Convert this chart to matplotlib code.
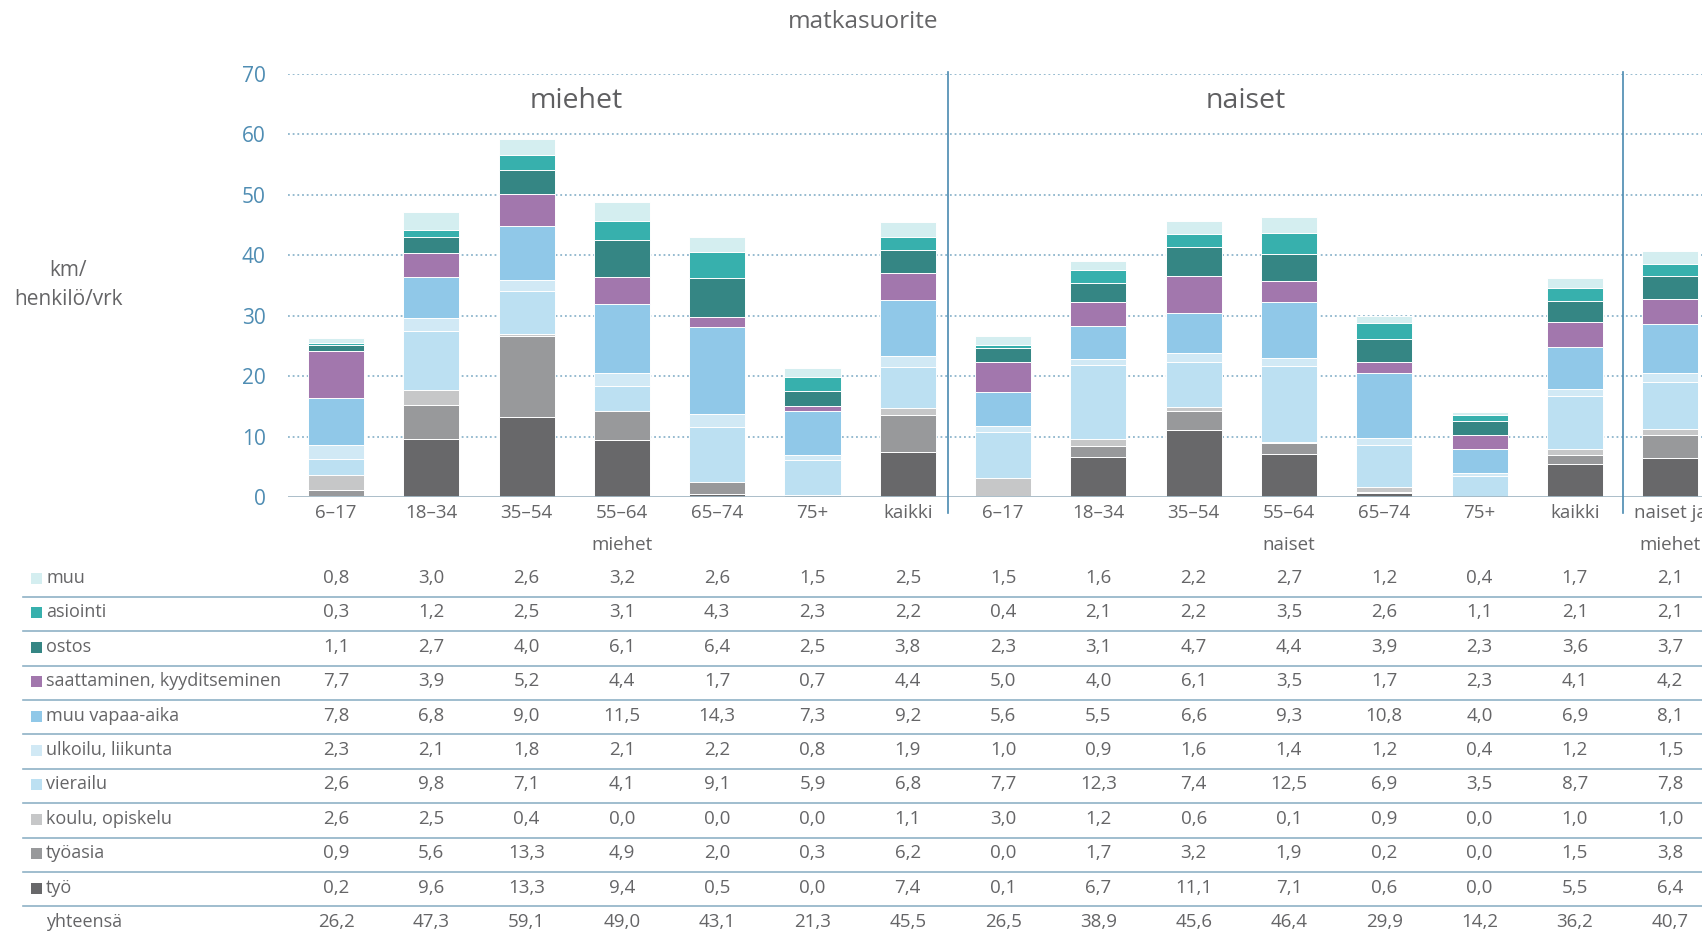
import matplotlib
matplotlib.use('Agg')
import matplotlib.pyplot as plt
from matplotlib.transforms import blended_transform_factory
from matplotlib.lines import Line2D
from matplotlib.patches import Rectangle
import numpy as np

plt.rcParams['font.family'] = ['Open Sans', 'DejaVu Sans']

# ---------------- data ----------------
columns = ['6–17', '18–34', '35–54', '55–64', '65–74', '75+', 'kaikki',
           '6–17', '18–34', '35–54', '55–64', '65–74', '75+', 'kaikki',
           'naiset ja']
group_labels = ['miehet', 'naiset', 'miehet']
group_label_cols = [3, 10, 14]
panel_titles = ['miehet', 'naiset']

tyo          = [0.2, 9.6, 13.3, 9.4, 0.5, 0.0, 7.4, 0.1, 6.7, 11.1, 7.1, 0.6, 0.0, 5.5, 6.4]
tyoasia      = [0.9, 5.6, 13.3, 4.9, 2.0, 0.3, 6.2, 0.0, 1.7, 3.2, 1.9, 0.2, 0.0, 1.5, 3.8]
koulu        = [2.6, 2.5, 0.4, 0.0, 0.0, 0.0, 1.1, 3.0, 1.2, 0.6, 0.1, 0.9, 0.0, 1.0, 1.0]
vierailu     = [2.6, 9.8, 7.1, 4.1, 9.1, 5.9, 6.8, 7.7, 12.3, 7.4, 12.5, 6.9, 3.5, 8.7, 7.8]
ulkoilu      = [2.3, 2.1, 1.8, 2.1, 2.2, 0.8, 1.9, 1.0, 0.9, 1.6, 1.4, 1.2, 0.4, 1.2, 1.5]
muu_vapaa    = [7.8, 6.8, 9.0, 11.5, 14.3, 7.3, 9.2, 5.6, 5.5, 6.6, 9.3, 10.8, 4.0, 6.9, 8.1]
saattaminen  = [7.7, 3.9, 5.2, 4.4, 1.7, 0.7, 4.4, 5.0, 4.0, 6.1, 3.5, 1.7, 2.3, 4.1, 4.2]
ostos        = [1.1, 2.7, 4.0, 6.1, 6.4, 2.5, 3.8, 2.3, 3.1, 4.7, 4.4, 3.9, 2.3, 3.6, 3.7]
asiointi     = [0.3, 1.2, 2.5, 3.1, 4.3, 2.3, 2.2, 0.4, 2.1, 2.2, 3.5, 2.6, 1.1, 2.1, 2.1]
muu          = [0.8, 3.0, 2.6, 3.2, 2.6, 1.5, 2.5, 1.5, 1.6, 2.2, 2.7, 1.2, 0.4, 1.7, 2.1]
yhteensa     = [26.2, 47.3, 59.1, 49.0, 43.1, 21.3, 45.5, 26.5, 38.9, 45.6, 46.4, 29.9, 14.2, 36.2, 40.7]

# bottom -> top stacking order
series = [
    ('työ', tyo, '#68686a'),
    ('työasia', tyoasia, '#98999b'),
    ('koulu, opiskelu', koulu, '#c6c7c8'),
    ('vierailu', vierailu, '#bce0f2'),
    ('ulkoilu, liikunta', ulkoilu, '#d1e9f5'),
    ('muu vapaa-aika', muu_vapaa, '#90c8e8'),
    ('saattaminen, kyyditseminen', saattaminen, '#a277ad'),
    ('ostos', ostos, '#358684'),
    ('asiointi', asiointi, '#37b0ad'),
    ('muu', muu, '#d4eef0'),
]

TXT = '#656567'

# ---------------- layout ----------------
W, H = 1702, 934
fig = plt.figure(figsize=(W / 100, H / 100), dpi=100)

def fy(px):
    return 1 - px / H

def fx(px):
    return px / W

ax_left, ax_right, ax_top, ax_bot = 288, 1702, 74, 497
ax = fig.add_axes([fx(ax_left), fy(ax_bot), fx(ax_right - ax_left), (ax_bot - ax_top) / H])

x = np.arange(len(columns))
bottom = np.zeros(len(columns))
for name, vals, col in series:
    v = np.array(vals)
    ax.bar(x, v, width=0.588, bottom=bottom, color=col, edgecolor='white',
           linewidth=0.7, zorder=3)
    bottom += v

ax.set_xlim(-0.5037, 14.334)
ax.set_ylim(0, 70)
for s in ax.spines.values():
    s.set_visible(False)
ax.set_yticks(range(0, 71, 10))
ax.tick_params(axis='y', length=0, pad=16, labelcolor='#4f8db3', labelsize=15)
ax.set_xticks(x)
ax.set_xticklabels(columns)
ax.tick_params(axis='x', length=0, pad=5, labelcolor=TXT, labelsize=13.5)
for yv in range(10, 71, 10):
    ax.axhline(yv, color='#8eb5cc', linestyle=(0, (1, 1.6)), linewidth=1.3, zorder=1)
ax.axhline(0, color='#a3b8c4', linewidth=2, zorder=4)

bt = blended_transform_factory(ax.transData, fig.transFigure)

# separators
for sx in [6.42, 13.51]:
    fig.add_artist(Line2D([sx, sx], [fy(72), fy(513)], transform=bt,
                          color='#4a8ab0', linewidth=1.2))

# panel titles
ax.text(2.52, fy(101), panel_titles[0], transform=bt, ha='center', va='center',
        fontsize=20.5, color='#5f5f61')
ax.text(9.55, fy(101), panel_titles[1], transform=bt, ha='center', va='center',
        fontsize=20.5, color='#5f5f61')

# group labels under ticks
for lab, c in zip(group_labels, group_label_cols):
    ax.text(c, fy(545), lab, transform=bt, ha='center', va='center',
            fontsize=13.5, color=TXT)

# title and y label
fig.text(fx(863), fy(22), 'matkasuorite', ha='center', va='center',
         fontsize=17.5, color=TXT)
fig.text(fx(68), fy(285), 'km/\nhenkilö/vrk', ha='center', va='center',
         fontsize=15, color=TXT, linespacing=1.45)

# ---------------- table ----------------
def fmt(v):
    return f'{v:.1f}'.replace('.', ',')

table_rows = list(reversed(series))
row0, rstep = 578, 34.4
for k, (name, vals, col) in enumerate(table_rows):
    yc = row0 + rstep * k
    fig.add_artist(Rectangle((fx(31), fy(yc + 6)), fx(11), 11 / H,
                             transform=fig.transFigure, color=col, linewidth=0))
    fig.text(fx(46), fy(yc), name, ha='left', va='center', fontsize=13, color=TXT)
    for i, v in enumerate(vals):
        ax.text(i, fy(yc), fmt(v), transform=bt, ha='center', va='center',
                fontsize=13.5, color=TXT, clip_on=False)
yc = row0 + rstep * len(table_rows)
fig.text(fx(46), fy(yc), 'yhteensä', ha='left', va='center', fontsize=13, color=TXT)
for i, v in enumerate(yhteensa):
    ax.text(i, fy(yc), fmt(v), transform=bt, ha='center', va='center',
            fontsize=13.5, color=TXT, clip_on=False)

for k in range(len(table_rows)):
    ly = row0 + rstep * k + 18.7
    fig.add_artist(Line2D([fx(23), 1.0], [fy(ly), fy(ly)], transform=fig.transFigure,
                          color='#8fb2c6', linewidth=1.2))

fig.savefig('out.png', dpi=100)
